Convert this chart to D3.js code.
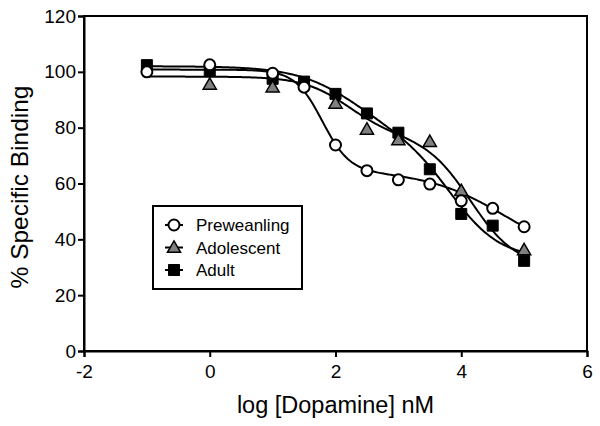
<!DOCTYPE html>
<html><head><meta charset="utf-8">
<script src="https://cdn.jsdelivr.net/npm/d3@7"></script>
<style>html,body{margin:0;padding:0;background:#fff}svg{display:block}text{font-family:"Liberation Sans",Arial,sans-serif;fill:#000}</style>
</head><body>
<svg id="c" width="600" height="426"></svg>
<script>
// ---- data ----
const seriesNames = ["Preweanling", "Adolescent", "Adult"];
const prewX = [-1, 0, 1, 1.5, 2, 2.5, 3, 3.5, 4, 4.5, 5];
const prewY = [100, 102.5, 99.5, 94.5, 73.8, 64.6, 61.3, 59.8, 53.8, 51.1, 44.5];
const adolX = [0, 1, 2, 2.5, 3, 3.5, 4, 5];
const adolY = [95.5, 94.5, 88.7, 79.4, 75.6, 75.0, 57.4, 36.2];
const adultX = [-1, 0, 1, 1.5, 2, 2.5, 3, 3.5, 4, 4.5, 5];
const adultY = [102.4, 100.4, 97.5, 96.5, 92.1, 85.1, 78.2, 65.1, 49.1, 44.9, 32.3];
// two-site competition fit parameters: [bottom, span1, logIC50_1, slope1, span2, logIC50_2, slope2]
const prewFit = [32.2, 36.3, 1.79, 2.0, 32.3, 4.7, 0.7];
const adolFit = [30.0, 21.0, 2.2, 1.2, 47.3, 4.15, 1.2];
const adultFit = [33.0, 25.0, 2.3, 0.9, 44.0, 3.85, 1.1];
const fitRange = [-1, 5];
const xTicks = [-2, 0, 2, 4, 6];
const yTicks = [0, 20, 40, 60, 80, 100, 120];
const xTitle = "log [Dopamine] nM";
const yTitle = "% Specific Binding";

// ---- drawing ----
const svg = d3.select("#c");
const L = 84, R = 587, T = 16, B = 351;
const x = d3.scaleLinear().domain([-2, 6]).range([L, R]);
const y = d3.scaleLinear().domain([0, 120]).range([B, T]);

function model(p, v) {
  return p[0] + p[1] / (1 + Math.pow(10, p[3] * (v - p[2]))) + p[4] / (1 + Math.pow(10, p[6] * (v - p[5])));
}

// frame
svg.append("rect").attr("x", L).attr("y", T).attr("width", R - L).attr("height", B - T)
  .attr("fill", "none").attr("stroke", "#000").attr("stroke-width", 2);

const gx = svg.append("g").attr("transform", `translate(0,${B})`)
  .call(d3.axisBottom(x).tickValues(xTicks).tickSize(6).tickPadding(8).tickFormat(d3.format("d")));
const gy = svg.append("g").attr("transform", `translate(${L},0)`)
  .call(d3.axisLeft(y).tickValues(yTicks).tickSize(6).tickPadding(2).tickFormat(d3.format("d")));
[gx, gy].forEach(g => {
  g.select(".domain").attr("stroke-width", 2);
  g.selectAll(".tick line").attr("stroke-width", 2);
  g.selectAll(".tick text").style("font-size", "19px").style("font-family", "Liberation Sans, Arial, sans-serif");
});
gx.selectAll(".tick text").text(d => d < 0 ? "-" + Math.abs(d) : d);

svg.append("text").attr("x", (L + R) / 2).attr("y", 413).attr("text-anchor", "middle")
  .style("font-size", "23.5px").text(xTitle);
svg.append("text").attr("transform", `translate(28,187) rotate(-90)`).attr("text-anchor", "middle")
  .style("font-size", "24.5px").text(yTitle);

// curves
const samples = d3.range(0, 301).map(i => fitRange[0] + (fitRange[1] - fitRange[0]) * i / 300);
const line = d3.line().x(d => x(d[0])).y(d => y(d[1]));
[prewFit, adolFit, adultFit].forEach(p => {
  svg.append("path").attr("d", line(samples.map(v => [v, model(p, v)])))
    .attr("fill", "none").attr("stroke", "#000").attr("stroke-width", 2);
});

const sq = d3.symbol().type(d3.symbolSquare).size(121);
const tri = d3.symbol().type(d3.symbolTriangle).size(75);
function drawSquare(g, px, py) {
  g.append("path").attr("d", sq()).attr("transform", `translate(${px},${py})`).attr("fill", "#000").attr("stroke", "#000").attr("stroke-width", 1);
}
function drawTri(g, px, py) {
  g.append("path").attr("d", tri()).attr("transform", `translate(${px},${py + 1})`).attr("fill", "#808080").attr("stroke", "#000").attr("stroke-width", 1.5);
}
function drawCircle(g, px, py) {
  g.append("circle").attr("cx", px).attr("cy", py).attr("r", 5.5).attr("fill", "#fff").attr("stroke", "#000").attr("stroke-width", 2);
}
const pts = svg.append("g");
adultX.forEach((v, i) => drawSquare(pts, x(v), y(adultY[i])));
adolX.forEach((v, i) => drawTri(pts, x(v), y(adolY[i])));
prewX.forEach((v, i) => drawCircle(pts, x(v), y(prewY[i])));

// legend
const lg = svg.append("g");
lg.append("rect").attr("x", 153).attr("y", 206).attr("width", 149).attr("height", 83)
  .attr("fill", "#fff").attr("stroke", "#000").attr("stroke-width", 2);
const drawers = [drawCircle, drawTri, drawSquare];
seriesNames.forEach((name, i) => {
  const cy = 225 + i * 22.5;
  lg.append("line").attr("x1", 165).attr("x2", 183).attr("y1", cy).attr("y2", cy).attr("stroke", "#000").attr("stroke-width", 2);
  drawers[i](lg, 174, cy);
  lg.append("text").attr("x", 196).attr("y", cy + 6).style("font-size", "17px").text(name);
});
</script>
</body></html>
